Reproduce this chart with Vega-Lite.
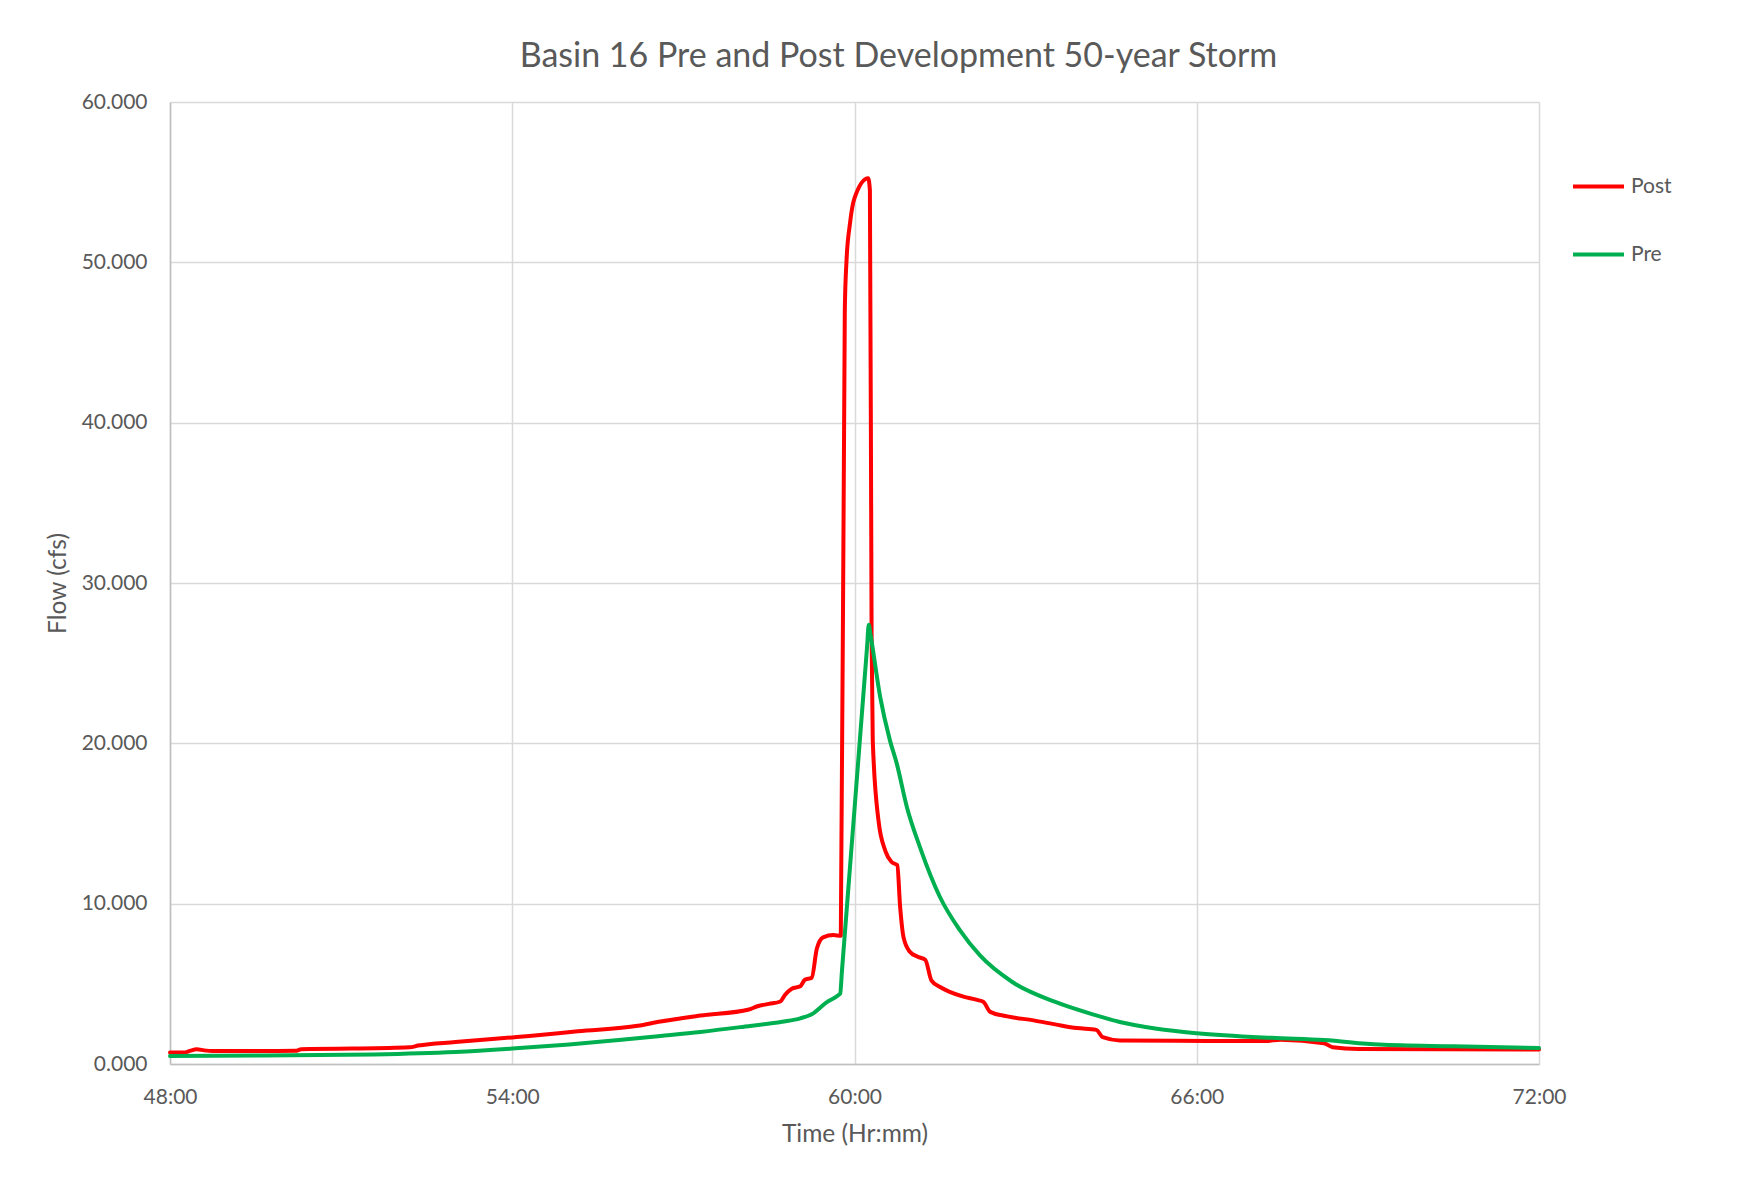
{
  "$schema": "https://vega.github.io/schema/vega-lite/v6.json",
  "width": 1369,
  "height": 962,
  "autosize": {"type": "none"},
  "padding": {"left": 170, "top": 102, "right": 198, "bottom": 116},
  "background": "white",
  "title": {
    "text": "Basin 16 Pre and Post Development 50-year Storm",
    "font": "Lato",
    "fontSize": 34,
    "fontWeight": "normal",
    "color": "#595959",
    "anchor": "middle",
    "frame": "group",
    "dx": 44,
    "baseline": "alphabetic",
    "offset": -10
  },
  "config": {
    "view": {"stroke": null},
    "font": "Lato"
  },
  "data": {
    "values": [
      {"series": "Post", "t": 48.0, "flow": 0.71},
      {"series": "Post", "t": 48.25, "flow": 0.71},
      {"series": "Post", "t": 48.35, "flow": 0.82},
      {"series": "Post", "t": 48.47, "flow": 0.92},
      {"series": "Post", "t": 48.6, "flow": 0.85},
      {"series": "Post", "t": 48.75, "flow": 0.81},
      {"series": "Post", "t": 49.4, "flow": 0.81},
      {"series": "Post", "t": 50.2, "flow": 0.82},
      {"series": "Post", "t": 50.3, "flow": 0.92},
      {"series": "Post", "t": 50.45, "flow": 0.94},
      {"series": "Post", "t": 51.2, "flow": 0.96},
      {"series": "Post", "t": 52.2, "flow": 1.04},
      {"series": "Post", "t": 52.35, "flow": 1.15},
      {"series": "Post", "t": 53.0, "flow": 1.37},
      {"series": "Post", "t": 54.0, "flow": 1.66},
      {"series": "Post", "t": 54.3, "flow": 1.75},
      {"series": "Post", "t": 55.15, "flow": 2.04},
      {"series": "Post", "t": 56.2, "flow": 2.38},
      {"series": "Post", "t": 56.6, "flow": 2.65},
      {"series": "Post", "t": 57.3, "flow": 3.02},
      {"series": "Post", "t": 58.15, "flow": 3.4},
      {"series": "Post", "t": 58.3, "flow": 3.6},
      {"series": "Post", "t": 58.5, "flow": 3.75},
      {"series": "Post", "t": 58.7, "flow": 3.9},
      {"series": "Post", "t": 58.78, "flow": 4.3},
      {"series": "Post", "t": 58.9, "flow": 4.7},
      {"series": "Post", "t": 59.05, "flow": 4.85},
      {"series": "Post", "t": 59.13, "flow": 5.25},
      {"series": "Post", "t": 59.25, "flow": 5.38},
      {"series": "Post", "t": 59.34, "flow": 7.2},
      {"series": "Post", "t": 59.45, "flow": 7.9},
      {"series": "Post", "t": 59.63, "flow": 8.04},
      {"series": "Post", "t": 59.76, "flow": 8.0},
      {"series": "Post", "t": 59.83, "flow": 47.0},
      {"series": "Post", "t": 59.86, "flow": 50.1},
      {"series": "Post", "t": 59.92, "flow": 52.4},
      {"series": "Post", "t": 60.0, "flow": 54.0},
      {"series": "Post", "t": 60.24, "flow": 55.24},
      {"series": "Post", "t": 60.27, "flow": 54.5},
      {"series": "Post", "t": 60.3, "flow": 26.5},
      {"series": "Post", "t": 60.32, "flow": 20.2},
      {"series": "Post", "t": 60.42, "flow": 15.2},
      {"series": "Post", "t": 60.54, "flow": 13.3},
      {"series": "Post", "t": 60.65, "flow": 12.6},
      {"series": "Post", "t": 60.75, "flow": 12.4},
      {"series": "Post", "t": 60.8, "flow": 9.8},
      {"series": "Post", "t": 60.86, "flow": 7.9},
      {"series": "Post", "t": 60.97, "flow": 7.0},
      {"series": "Post", "t": 61.1, "flow": 6.7},
      {"series": "Post", "t": 61.24, "flow": 6.5},
      {"series": "Post", "t": 61.35, "flow": 5.2},
      {"series": "Post", "t": 61.5, "flow": 4.8},
      {"series": "Post", "t": 61.67, "flow": 4.5},
      {"series": "Post", "t": 61.91, "flow": 4.2},
      {"series": "Post", "t": 62.15, "flow": 4.0},
      {"series": "Post", "t": 62.26, "flow": 3.87},
      {"series": "Post", "t": 62.38, "flow": 3.25},
      {"series": "Post", "t": 62.68, "flow": 2.97},
      {"series": "Post", "t": 63.14, "flow": 2.72},
      {"series": "Post", "t": 63.52, "flow": 2.47},
      {"series": "Post", "t": 63.9, "flow": 2.24},
      {"series": "Post", "t": 64.24, "flow": 2.13},
      {"series": "Post", "t": 64.35, "flow": 1.67},
      {"series": "Post", "t": 64.65, "flow": 1.47},
      {"series": "Post", "t": 66.18, "flow": 1.44},
      {"series": "Post", "t": 67.2, "flow": 1.44},
      {"series": "Post", "t": 67.47, "flow": 1.52},
      {"series": "Post", "t": 68.23, "flow": 1.3},
      {"series": "Post", "t": 68.38, "flow": 1.05},
      {"series": "Post", "t": 68.84, "flow": 0.94},
      {"series": "Post", "t": 72.0, "flow": 0.9},
      {"series": "Pre", "t": 48.0, "flow": 0.5},
      {"series": "Pre", "t": 49.5, "flow": 0.53},
      {"series": "Pre", "t": 51.58, "flow": 0.6},
      {"series": "Pre", "t": 53.0, "flow": 0.75},
      {"series": "Pre", "t": 54.0, "flow": 0.96},
      {"series": "Pre", "t": 55.0, "flow": 1.22},
      {"series": "Pre", "t": 55.87, "flow": 1.5},
      {"series": "Pre", "t": 56.6, "flow": 1.75},
      {"series": "Pre", "t": 57.3, "flow": 2.0},
      {"series": "Pre", "t": 58.0, "flow": 2.3},
      {"series": "Pre", "t": 58.73, "flow": 2.64},
      {"series": "Pre", "t": 59.05, "flow": 2.85},
      {"series": "Pre", "t": 59.25, "flow": 3.1},
      {"series": "Pre", "t": 59.51, "flow": 3.85},
      {"series": "Pre", "t": 59.72, "flow": 4.3},
      {"series": "Pre", "t": 59.75, "flow": 4.4},
      {"series": "Pre", "t": 59.78, "flow": 5.8},
      {"series": "Pre", "t": 60.0, "flow": 15.9},
      {"series": "Pre", "t": 60.22, "flow": 26.0},
      {"series": "Pre", "t": 60.25, "flow": 27.4},
      {"series": "Pre", "t": 60.28, "flow": 26.8},
      {"series": "Pre", "t": 60.45, "flow": 22.9},
      {"series": "Pre", "t": 60.62, "flow": 20.2},
      {"series": "Pre", "t": 60.74, "flow": 18.75},
      {"series": "Pre", "t": 60.92, "flow": 16.0},
      {"series": "Pre", "t": 61.15, "flow": 13.5},
      {"series": "Pre", "t": 61.5, "flow": 10.4},
      {"series": "Pre", "t": 61.85, "flow": 8.33},
      {"series": "Pre", "t": 62.2, "flow": 6.77},
      {"series": "Pre", "t": 62.76, "flow": 5.13},
      {"series": "Pre", "t": 63.52, "flow": 3.87},
      {"series": "Pre", "t": 64.24, "flow": 3.03},
      {"series": "Pre", "t": 64.65, "flow": 2.62},
      {"series": "Pre", "t": 65.3, "flow": 2.2},
      {"series": "Pre", "t": 66.0, "flow": 1.92},
      {"series": "Pre", "t": 67.32, "flow": 1.63},
      {"series": "Pre", "t": 68.23, "flow": 1.5},
      {"series": "Pre", "t": 69.2, "flow": 1.21},
      {"series": "Pre", "t": 70.5, "flow": 1.1},
      {"series": "Pre", "t": 72.0, "flow": 1.0}
    ]
  },
  "mark": {"type": "line", "strokeWidth": 4, "interpolate": "monotone", "strokeCap": "round", "strokeJoin": "round"},
  "encoding": {
    "x": {
      "field": "t",
      "type": "quantitative",
      "scale": {"domain": [48, 72], "nice": false, "zero": false},
      "axis": {
        "title": "Time (Hr:mm)",
        "values": [48, 54, 60, 66, 72],
        "labelExpr": "format(datum.value, 'd') + ':00'",
        "labelFlush": false,
        "labelBound": false,
        "grid": true,
        "gridColor": "#D9D9D9",
        "gridWidth": 1.5,
        "domainColor": "#BFBFBF",
        "domainWidth": 1.5,
        "ticks": false,
        "labelPadding": 22,
        "labelFont": "Lato",
        "labelFontSize": 21,
        "labelColor": "#595959",
        "titleFont": "Lato",
        "titleFontSize": 24.5,
        "titleFontWeight": "normal",
        "titleColor": "#595959",
        "titlePadding": 15
      }
    },
    "y": {
      "field": "flow",
      "type": "quantitative",
      "scale": {"domain": [0, 60], "nice": false},
      "axis": {
        "title": "Flow (cfs)",
        "values": [0, 10, 20, 30, 40, 50, 60],
        "format": ".3f",
        "labelFlush": false,
        "grid": true,
        "gridColor": "#D9D9D9",
        "gridWidth": 1.5,
        "domainColor": "#BFBFBF",
        "domainWidth": 1.5,
        "ticks": false,
        "labelPadding": 23,
        "labelFont": "Lato",
        "labelFontSize": 21,
        "labelColor": "#595959",
        "titleFont": "Lato",
        "titleFontSize": 24.5,
        "titleFontWeight": "normal",
        "titleColor": "#595959",
        "titlePadding": 11
      }
    },
    "color": {
      "field": "series",
      "type": "nominal",
      "scale": {"domain": ["Post", "Pre"], "range": ["#FF0000", "#00B050"]},
      "legend": {
        "title": null,
        "orient": "none",
        "legendX": 1401,
        "legendY": 57,
        "padding": 0,
        "symbolType": "stroke",
        "symbolSize": 2601,
        "symbolStrokeWidth": 4,
        "rowPadding": 30,
        "labelOffset": 5,
        "labelFont": "Lato",
        "labelFontSize": 21,
        "labelColor": "#595959"
      }
    }
  }
}
